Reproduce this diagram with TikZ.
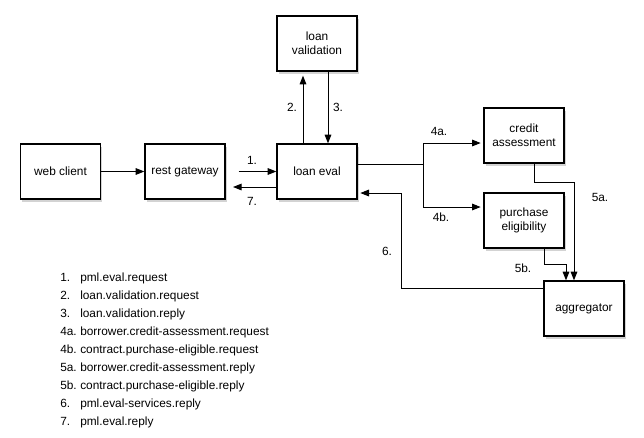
\documentclass[tikz,border=0pt]{standalone}
\usepackage{fontspec}
\setmainfont{Liberation Sans}
\usetikzlibrary{arrows.meta}
\usetikzlibrary{shadows}
\usetikzlibrary{calc}

\tikzset{
  svcbox/.style={draw, line width=1pt, fill=white, minimum width=60pt, minimum height=41.25pt,
    align=center, inner sep=0.75pt, font=\fontsize{8.9}{10.5}\selectfont,
    drop shadow={shadow xshift=1.2pt, shadow yshift=-2.4pt, opacity=0.35}},
  msg/.style={line width=0.75pt, -{Triangle[length=6.5pt,width=5pt]}},
  lbl/.style={inner sep=0.75pt, font=\fontsize{8.9}{10.5}\selectfont},
}

\begin{document}
\begin{tikzpicture}[x=0.75pt,y=0.75pt,yscale=-1,xscale=1]
\useasboundingbox (0,0) rectangle (644,437);

%Boxes
\node [svcbox] (web) at (60.5,171.5) {web client};
\node [svcbox] (gateway) at (185,171.5) {rest gateway};
\node [svcbox] (eval) at (317,171.5) {loan eval};
\node [svcbox] (validation) at (317,43.5) {loan\\validation};
\node [svcbox] (credit) at (524,135.5) {credit\\assessment};
\node [svcbox] (purchase) at (524,220.5) {purchase\\eligibility};
\node [svcbox] (aggregator) at (584,308.5) {aggregator};

%Bends
\coordinate (fork) at (423,164);
\coordinate (turn6) at (401.5,193);

%Straight Lines
\draw [msg] (web) -- (gateway);
\draw [msg, shorten <=9.75pt] (gateway) -- (eval);
\draw [msg, shorten >=5.5pt] ($(eval.west)+(0,15.5)$) -- ($(gateway.east)+(0,15.5)$);
\draw [msg, shorten >=3pt] ($(eval.north)+(-14,0)$) -- ($(validation.south)+(-14,0)$);
\draw [msg] ($(validation.south)+(11,0)$) -- ($(eval.north)+(11,0)$);
%Elbow Lines
\draw [msg, shorten >=2pt] ($(eval.east)+(0,-7.5)$) -- (fork) |- ($(credit.west)+(0,7.5)$);
\draw [msg, shorten >=2pt] (fork) |- ($(purchase.west)+(0,-13.5)$);
\draw [msg] ($(credit.south)+(10,0)$) -- ++(0,19) -| ($(aggregator.north)+(-10,0)$);
\draw [msg] ($(purchase.south)+(20,0)$) -- ++(0,16) -| ($(aggregator.north)+(-18,0)$);
\draw [msg, shorten >=2pt] ($(aggregator.west)+(0,-20.5)$) -| (turn6) -- ($(eval.east)+(0,21.5)$);

% Text Node
\node [lbl] (l1) at (252,160) {1.};
\node [lbl] (l7) at (252,201) {7.};
\node [lbl] (l2) at (292,107) {2.};
\node [lbl] (l3) at (338,107) {3.};
\node [lbl] (l4a) at (439,131) {4a.};
\node [lbl] (l4b) at (441,217) {4b.};
\node [lbl] (l5a) at (600,197) {5a.};
\node [lbl] (l5b) at (523,268) {5b.};
\node [lbl] (l6) at (387,251) {6.};

%Legend
\foreach \key/\topic [count=\i] in {1./pml.eval.request, 2./loan.validation.request,
    3./loan.validation.reply, 4a./borrower.credit-assessment.request,
    4b./contract.purchase-eligible.request, 5a./borrower.credit-assessment.reply,
    5b./contract.purchase-eligible.reply, 6./pml.eval-services.reply, 7./pml.eval.reply}
{
  \node [lbl, anchor=base west] (key\i) at (59,{281.8+17.9*(\i-1)}) {\key};
  \node [lbl, anchor=base west] (topic\i) at (79,{281.8+17.9*(\i-1)}) {\topic};
}

\end{tikzpicture}
\end{document}
